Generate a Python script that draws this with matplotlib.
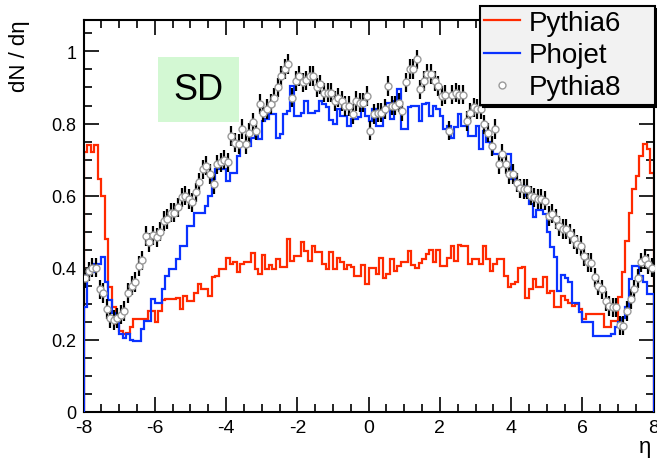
import numpy as np
import matplotlib
matplotlib.use("Agg")
import matplotlib.pyplot as plt
from matplotlib.lines import Line2D
from matplotlib.patches import Rectangle
from matplotlib.ticker import MultipleLocator

plt.rcParams['font.family'] = ['Liberation Sans', 'DejaVu Sans']
plt.rcParams['axes.unicode_minus'] = False

# eta binning: 160 bins of 0.1 from -8 to 8
edges = np.linspace(-8, 8, 161)
centers = 0.5 * (edges[:-1] + edges[1:])

pythia6 = [
    0.72, 0.74, 0.72, 0.74, 0.645, 0.60, 0.48, 0.345, 0.29, 0.245,
    0.225, 0.215, 0.22, 0.235, 0.257, 0.257, 0.257, 0.257, 0.28, 0.28,
    0.248, 0.28, 0.31, 0.313, 0.313, 0.313, 0.317, 0.285, 0.322, 0.308,
    0.308, 0.331, 0.354, 0.34, 0.34, 0.322, 0.373, 0.377, 0.396, 0.396,
    0.428, 0.41, 0.415, 0.387, 0.41, 0.415, 0.415, 0.44, 0.396, 0.382,
    0.435, 0.395, 0.407, 0.395, 0.424, 0.403, 0.403, 0.479, 0.419, 0.433,
    0.433, 0.47, 0.447, 0.419, 0.461, 0.444, 0.444, 0.41, 0.396, 0.444,
    0.396, 0.428, 0.415, 0.396, 0.407, 0.403, 0.376, 0.378, 0.407, 0.354,
    0.398, 0.398, 0.382, 0.428, 0.37, 0.382, 0.424, 0.391, 0.405, 0.415,
    0.416, 0.447, 0.407, 0.398, 0.413, 0.424, 0.438, 0.45, 0.415, 0.45,
    0.405, 0.405, 0.428, 0.461, 0.419, 0.463, 0.461, 0.461, 0.41, 0.424,
    0.424, 0.41, 0.461, 0.424, 0.391, 0.41, 0.424, 0.424, 0.378, 0.345,
    0.354, 0.359, 0.40, 0.403, 0.317, 0.34, 0.368, 0.345, 0.345, 0.373,
    0.331, 0.336, 0.29, 0.29, 0.322, 0.31, 0.303, 0.294, 0.30, 0.285,
    0.257, 0.271, 0.271, 0.271, 0.271, 0.271, 0.234, 0.234, 0.253, 0.253,
    0.32, 0.387, 0.474, 0.553, 0.618, 0.655, 0.71, 0.743, 0.73, 0.664,
]

phojet = [
    0.29, 0.387, 0.387, 0.41, 0.41, 0.43, 0.36, 0.31, 0.275, 0.255,
    0.215, 0.206, 0.215, 0.20, 0.197, 0.197, 0.23, 0.253, 0.253, 0.313,
    0.303, 0.303, 0.34, 0.377, 0.396, 0.396, 0.424, 0.461, 0.461, 0.516,
    0.516, 0.553, 0.553, 0.553, 0.572, 0.60, 0.646, 0.673, 0.673, 0.673,
    0.641, 0.664, 0.664, 0.71, 0.738, 0.738, 0.738, 0.76, 0.78, 0.757,
    0.807, 0.812, 0.826, 0.826, 0.761, 0.77, 0.826, 0.835, 0.905, 0.821,
    0.821, 0.83, 0.863, 0.83, 0.83, 0.835, 0.863, 0.853, 0.845, 0.81,
    0.798, 0.84, 0.82, 0.82, 0.793, 0.812, 0.812, 0.817, 0.84, 0.82,
    0.807, 0.84, 0.793, 0.793, 0.83, 0.858, 0.812, 0.863, 0.895, 0.784,
    0.784, 0.845, 0.849, 0.849, 0.807, 0.853, 0.858, 0.82, 0.849, 0.84,
    0.82, 0.784, 0.793, 0.761, 0.79, 0.826, 0.794, 0.794, 0.766, 0.766,
    0.794, 0.729, 0.78, 0.75, 0.734, 0.715, 0.715, 0.715, 0.715, 0.715,
    0.646, 0.636, 0.627, 0.627, 0.60, 0.576, 0.54, 0.56, 0.56, 0.55,
    0.498, 0.456, 0.43, 0.336, 0.38, 0.37, 0.36, 0.303, 0.303, 0.276,
    0.248, 0.248, 0.248, 0.211, 0.211, 0.211, 0.211, 0.211, 0.215, 0.234,
    0.25, 0.26, 0.29, 0.368, 0.405, 0.405, 0.377, 0.36, 0.327, 0.327,
]

pythia8 = [
    0.37, 0.39, 0.40, 0.40, 0.34, 0.33, 0.285, 0.26, 0.255, 0.26,
    0.27, 0.28, 0.33, 0.35, 0.36, 0.405, 0.42, 0.488, 0.47, 0.49,
    0.484, 0.50, 0.53, 0.535, 0.553, 0.553, 0.567, 0.595, 0.60, 0.59,
    0.581, 0.609, 0.637, 0.673, 0.683, 0.66, 0.632, 0.687, 0.692, 0.70,
    0.692, 0.766, 0.747, 0.743, 0.785, 0.743, 0.775, 0.803, 0.78, 0.854,
    0.83, 0.84, 0.854, 0.872, 0.90, 0.932, 0.951, 0.965, 0.872, 0.918,
    0.932, 0.914, 0.92, 0.932, 0.932, 0.90, 0.909, 0.886, 0.886, 0.886,
    0.863, 0.872, 0.863, 0.849, 0.849, 0.826, 0.863, 0.858, 0.858, 0.877,
    0.78, 0.826, 0.83, 0.83, 0.84, 0.904, 0.85, 0.85, 0.858, 0.835,
    0.914, 0.951, 0.951, 0.978, 0.895, 0.918, 0.937, 0.937, 0.918, 0.904,
    0.877, 0.88, 0.78, 0.88, 0.886, 0.88, 0.88, 0.807, 0.83, 0.845,
    0.84, 0.84, 0.798, 0.775, 0.738, 0.785, 0.687, 0.715, 0.687, 0.66,
    0.66, 0.636, 0.62, 0.618, 0.618, 0.60, 0.595, 0.59, 0.59, 0.586,
    0.544, 0.55, 0.535, 0.516, 0.507, 0.507, 0.493, 0.479, 0.465, 0.46,
    0.433, 0.415, 0.414, 0.373, 0.35, 0.34, 0.308, 0.294, 0.29, 0.29,
    0.24, 0.239, 0.28, 0.313, 0.34, 0.37, 0.415, 0.424, 0.41, 0.40,
]
pythia8_err = 0.027

ytick_vals = [0, 0.2, 0.4, 0.6, 0.8, 1]
ytick_labels = ["0", "0.2", "0.4", "0.6", "0.8", "1"]

red = '#ff2a00'
blue = '#0a32ff'

fig = plt.figure(figsize=(6.57, 4.64), dpi=100)
ax = fig.add_axes([0.1271, 0.1103, 0.8679, 0.8450])

ax.stairs(pythia6, edges, color=red, lw=1.6, zorder=2)
ax.stairs(phojet, edges, color=blue, lw=1.6, zorder=3)
ax.errorbar(centers, pythia8, yerr=pythia8_err, fmt='o', ms=5, mfc='white',
            mec='#9a9a9a', mew=1.0, ecolor='black', elinewidth=1.6,
            capsize=0, zorder=4)

ax.set_xlim(-8, 8)
ax.set_ylim(0, 1.088)
ax.set_xticks(np.arange(-8, 8.1, 2))
ax.xaxis.set_minor_locator(MultipleLocator(0.5))
ax.set_yticks(ytick_vals)
ax.set_yticklabels(ytick_labels)
ax.yaxis.set_minor_locator(MultipleLocator(0.05))
ax.tick_params(which='both', direction='in', top=True, right=True, width=1.2)
ax.tick_params(which='major', length=11)
ax.tick_params(which='minor', length=5.5)
ax.tick_params(axis='x', labelsize=14, pad=5)
ax.tick_params(axis='y', labelsize=13, pad=5)
for s in ax.spines.values():
    s.set_linewidth(1.5)

fig.text(0.030, 0.957, "dN / dη", rotation=90, ha='center', va='top', fontsize=16)
fig.text(645 / 657, 1 - 448 / 464, "η", ha='center', va='center', fontsize=16)

# SD label box
fig.patches.append(Rectangle((158 / 657, 1 - 123 / 464), 81 / 657, 65 / 464,
                             transform=fig.transFigure, facecolor='#d3f8d3',
                             edgecolor='none', zorder=1))
fig.text(198.5 / 657, 1 - 91 / 464, "SD", ha='center', va='center', fontsize=26, zorder=2)

handles = [
    Line2D([], [], color=red, lw=1.6),
    Line2D([], [], color=blue, lw=1.6),
    Line2D([], [], ls='none', marker='o', ms=5, mfc='white', mec='#9a9a9a', mew=1.0),
]
leg = fig.legend(handles, ["Pythia6", "Phojet", "Pythia8"], loc='upper left',
                 bbox_to_anchor=(480 / 657, 1 - 118 / 464, 175 / 657, 111 / 464),
                 mode='expand', borderaxespad=0, fontsize=20, handlelength=1.3,
                 handletextpad=0.3, borderpad=0.15, labelspacing=0.22,
                 fancybox=False, framealpha=1, edgecolor='black',
                 facecolor='#f2f2f2', shadow={'color': 'black', 'alpha': 1})
leg.get_frame().set_linewidth(1.5)

fig.savefig("out.png", dpi=100)
